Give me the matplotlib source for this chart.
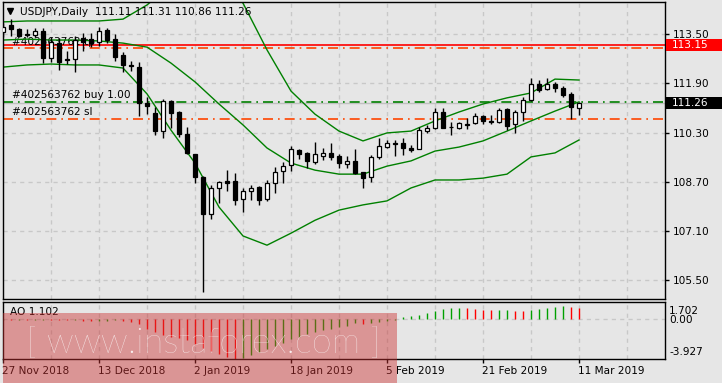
import numpy as np
import matplotlib.pyplot as plt
from matplotlib.patches import Rectangle
import matplotlib.transforms as mtransforms

# Daily USDJPY bars (27 Nov 2018 .. 11 Mar 2019)
opens = [113.57, 113.80, 113.67, 113.51, 113.47, 113.60, 112.73, 113.21, 112.69, 112.69,
         113.38, 113.34, 113.25, 113.64, 113.34, 112.82, 112.50, 112.43, 111.26, 110.94,
         110.35, 111.33, 110.97, 110.25, 109.60, 108.86, 107.65, 108.50, 108.73, 108.73,
         108.14, 108.40, 108.53, 108.14, 108.66, 109.05, 109.25, 109.73, 109.64, 109.34,
         109.54, 109.64, 109.54, 109.28, 109.38, 109.02, 108.86, 109.51, 109.83, 109.96,
         109.96, 109.80, 109.77, 110.35, 110.45, 110.97, 110.48, 110.45, 110.58, 110.61,
         110.84, 110.68, 110.64, 111.07, 110.58, 110.97, 111.36, 111.88, 111.72, 111.88,
         111.75, 111.55, 111.11]
highs = [113.86, 113.99, 113.70, 113.67, 113.70, 113.70, 113.41, 113.38, 112.95, 113.44,
         113.54, 113.54, 113.73, 113.70, 113.51, 112.92, 112.63, 112.60, 111.46, 111.13,
         111.39, 111.36, 111.00, 110.48, 109.62, 108.89, 108.60, 108.73, 109.08, 108.99,
         108.50, 108.60, 108.55, 108.76, 109.18, 109.34, 109.86, 109.77, 109.67, 109.99,
         109.80, 109.96, 109.60, 109.54, 109.77, 109.03, 109.57, 110.12, 110.06, 110.06,
         110.12, 109.90, 110.48, 110.55, 111.10, 111.10, 110.64, 110.64, 110.77, 110.94,
         110.87, 110.87, 111.10, 111.10, 111.03, 111.46, 112.08, 112.01, 112.08, 111.95,
         111.82, 111.62, 111.31]
lows = [113.41, 113.44, 113.41, 113.41, 113.41, 112.56, 112.60, 112.34, 112.53, 112.27,
        112.95, 113.08, 113.12, 113.21, 112.63, 112.27, 112.30, 110.84, 110.90, 110.22,
        110.12, 110.45, 110.16, 109.60, 108.66, 105.12, 107.49, 108.01, 108.40, 107.95,
        107.72, 108.11, 107.95, 108.08, 108.34, 108.66, 109.05, 109.44, 109.15, 109.28,
        109.41, 109.41, 109.15, 109.15, 108.95, 108.50, 108.69, 109.44, 109.80, 109.54,
        109.57, 109.67, 109.76, 110.29, 110.42, 110.44, 110.22, 110.42, 110.42, 110.58,
        110.58, 110.58, 110.61, 110.38, 110.29, 110.68, 111.33, 111.62, 111.69, 111.62,
        111.46, 110.74, 110.86]
closes = [113.73, 113.67, 113.44, 113.49, 113.60, 112.73, 113.25, 112.60, 112.66, 113.31,
          113.25, 113.21, 113.60, 113.31, 112.76, 112.50, 112.47, 111.26, 111.16, 110.35,
          111.33, 110.94, 110.25, 109.64, 108.86, 107.65, 108.50, 108.69, 108.66, 108.11,
          108.40, 108.50, 108.11, 108.66, 109.02, 109.21, 109.77, 109.60, 109.38, 109.60,
          109.64, 109.51, 109.31, 109.38, 108.99, 108.82, 109.51, 109.86, 109.96, 109.93,
          109.80, 109.73, 110.38, 110.45, 110.97, 110.45, 110.47, 110.61, 110.56, 110.84,
          110.68, 110.66, 111.03, 110.51, 110.97, 111.36, 111.88, 111.69, 111.88, 111.75,
          111.52, 111.13, 111.26]

# bollinger-style envelope, read every third bar
band_idx = list(range(0, 73, 3))
band_upper = [113.90, 113.93, 113.93, 113.93, 113.93, 113.99, 114.45, 115.10, 115.52, 115.26,
              114.51, 112.99, 111.65, 110.90, 110.35, 110.03, 110.29, 110.35, 110.68, 110.97,
              111.23, 111.43, 111.59, 112.04, 112.01]
band_mid = [113.31, 113.34, 113.31, 113.31, 113.28, 113.21, 113.08, 112.56, 111.95, 111.23,
            110.55, 109.80, 109.31, 109.08, 108.95, 108.95, 109.21, 109.38, 109.70, 109.83,
            110.03, 110.35, 110.68, 111.00, 111.30]
band_lower = [112.43, 112.50, 112.53, 112.50, 112.50, 112.40, 111.56, 110.38, 109.31, 107.88,
              106.94, 106.64, 107.03, 107.45, 107.78, 107.95, 108.08, 108.50, 108.76, 108.76,
              108.82, 108.95, 109.51, 109.64, 110.06]

# Awesome Oscillator
ao = [-0.05, -0.08, -0.06, -0.10, -0.07, -0.05, -0.06, -0.09, -0.12, -0.10,
      -0.15, -0.20, -0.17, -0.14, -0.12, -0.16, -0.30, -0.50, -1.00, -1.30,
      -1.60, -1.80, -1.90, -2.10, -2.40, -2.80, -3.10, -3.40, -3.70, -3.93,
      -3.80, -3.50, -3.20, -2.90, -2.60, -2.30, -2.00, -1.75, -1.50, -1.30,
      -1.10, -0.95, -0.80, -0.65, -0.42, -0.46, -0.35, -0.25, -0.18, -0.05,
      0.26, 0.30, 0.45, 0.66, 0.78, 1.02, 1.09, 1.12, 1.08, 0.99,
      0.92, 0.90, 0.93, 0.95, 0.85, 0.83, 0.92, 1.02, 1.15, 1.18,
      1.32, 1.25, 1.102]

price_ticks = [105.50, 107.10, 108.70, 110.30, 111.90, 113.50]
date_labels = ["27 Nov 2018", "13 Dec 2018", "2 Jan 2019", "18 Jan 2019",
               "5 Feb 2019", "21 Feb 2019", "11 Mar 2019"]

tp_level = 113.04
sl_level = 110.74
buy_level = 111.29
bid = 111.26
red_level = 113.15

BG = "#e6e6e6"
GRID = "#c8c8c8"
W, H = 722, 383

fig = plt.figure(figsize=(W / 100, H / 100), dpi=100, facecolor=BG)
ax = fig.add_axes([3 / W, (H - 299) / H, 662 / W, 297 / H], facecolor=BG)
ax2 = fig.add_axes([3 / W, (H - 359) / H, 662 / W, 57 / H], facecolor=BG)

n = len(opens)
x = np.arange(n)
xmax = 662 / 8

# --- main price window ---
ax.set_xlim(0, xmax)
ax.set_ylim(104.89, 114.547)
for p in price_ticks:
    ax.axhline(p, color=GRID, lw=1, ls=(0, (3, 3)), zorder=0)
for i in range(6, int(xmax) + 1, 6):
    ax.axvline(i, color=GRID, lw=1, ls=(0, (3, 3)), zorder=0)

ax.plot(band_idx, band_upper, color="#008000", lw=1, zorder=2)
ax.plot(band_idx, band_mid, color="#008000", lw=1, zorder=2)
ax.plot(band_idx, band_lower, color="#008000", lw=1, zorder=2)

ax.axhline(red_level, color="#ff0000", lw=1.2, zorder=1)
ax.axhline(tp_level, color="#ff4500", lw=1.2, ls=(0, (6, 3, 1, 3)), zorder=1)
ax.axhline(bid, color="#c0c0c0", lw=1, zorder=1)
ax.axhline(buy_level, color="#008000", lw=1.2, ls=(0, (6, 3, 1, 3)), zorder=1)
ax.axhline(sl_level, color="#ff4500", lw=1.2, ls=(0, (6, 3, 1, 3)), zorder=1)

ax.text(1.1, tp_level + 0.06, "#402563762 tp", fontsize=7.6, va="bottom", zorder=1)
ax.text(1.1, buy_level + 0.06, "#402563762 buy 1.00", fontsize=7.6, va="bottom", zorder=1)
ax.text(1.1, sl_level + 0.06, "#402563762 sl", fontsize=7.6, va="bottom", zorder=1)

for i in range(n):
    o, h, l, c = opens[i], highs[i], lows[i], closes[i]
    ax.vlines(i, l, h, color="black", lw=1, zorder=3)
    face = "white" if c >= o else "black"
    bottom = min(o, c)
    height = max(abs(c - o), 0.02)
    ax.add_patch(Rectangle((i - 0.3, bottom), 0.6, height, facecolor=face,
                           edgecolor="black", lw=0.9, zorder=4))

ax.yaxis.tick_right()
ax.set_yticks(price_ticks)
ax.set_yticklabels(["%.2f" % p for p in price_ticks])
ax.tick_params(axis="y", length=3, width=1, labelsize=7.6, pad=3, colors="black")
ax.set_xticks([])
for s in ax.spines.values():
    s.set_color("black")
    s.set_linewidth(1)

# current price / red level labels on the scale
tr = mtransforms.blended_transform_factory(fig.transFigure, ax.transData)
for level, col in [(red_level, "#ff0000"), (bid, "black")]:
    ax.add_patch(Rectangle((666 / W, level - 0.2), 56 / W, 0.4, transform=tr,
                           facecolor=col, edgecolor="none", clip_on=False, zorder=5))
    ax.text(672 / W, level, "%.2f" % level, transform=tr, color="white",
            fontsize=7.6, va="center", ha="left", clip_on=False, zorder=6)

fig.text(20 / W, 1 - 12 / H, "USDJPY,Daily  111.11 111.31 110.86 111.26",
         fontsize=7.6, va="center", ha="left")
fig.lines.append(plt.Line2D([10 / W], [1 - 11 / H], marker="v", color="black",
                            markersize=5, transform=fig.transFigure))

# --- AO window ---
ao_top, ao_bottom = 1.702, -3.927
ax2.set_xlim(0, xmax)
ax2.set_ylim(ao_bottom, ao_top)
for i in range(6, int(xmax) + 1, 6):
    ax2.axvline(i, color=GRID, lw=1, ls=(0, (3, 3)), zorder=0)
ax2.axhline(0, color=GRID, lw=1, ls=(0, (3, 3)), zorder=0)
cols = ["#00a000"] + ["#00a000" if ao[i] > ao[i - 1] else "#ff0000" for i in range(1, n)]
ax2.vlines(x, 0, ao, colors=cols, lw=1, zorder=2)
ax2.set_yticks([])
ax2.set_xticks(range(0, n, 12))
ax2.set_xticklabels(date_labels, ha="left")
ax2.tick_params(axis="x", length=3, width=1, labelsize=7.6, pad=2)
for lab in ax2.get_xticklabels():
    lab.set_transform(lab.get_transform() + mtransforms.ScaledTranslation(-1 / 100, 0, fig.dpi_scale_trans))
for s in ax2.spines.values():
    s.set_color("black")
    s.set_linewidth(1)
ax2.text(8 / W, 0.83, "AO 1.102", transform=ax2.transAxes, fontsize=7.6, va="center")
fig.text(669 / W, 1 - 311 / H, "1.702", fontsize=7.6, va="center")
fig.text(669 / W, 1 - 320 / H, "0.00", fontsize=7.6, va="center")
fig.text(669 / W, 1 - 352 / H, "-3.927", fontsize=7.6, va="center")

# instaforex watermark
fig.patches.append(Rectangle((3 / W, 0), 394 / W, 70 / H, transform=fig.transFigure,
                             facecolor=(0.8, 0.2, 0.2), alpha=0.45, edgecolor="none", zorder=10))
fig.text(26 / W, 1 - 344 / H, "[ www.instaforex.com ]", fontsize=26, color="white",
         alpha=0.85, family="Lato", weight="light", va="center", ha="left", zorder=11)

fig.savefig("out.png", dpi=100, facecolor=BG)
